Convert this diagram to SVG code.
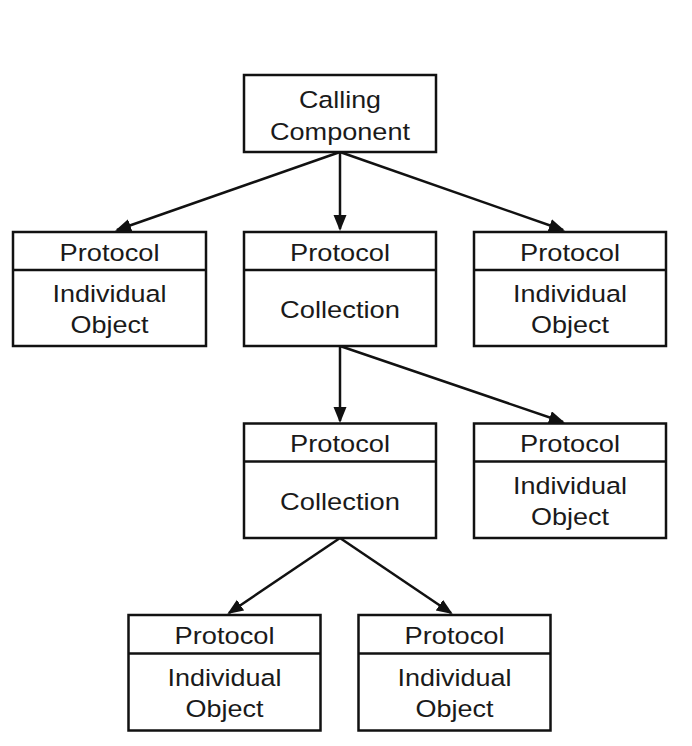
<svg xmlns="http://www.w3.org/2000/svg" width="692" height="746" viewBox="0 0 692 746">
<style>
.box{fill:#fff;stroke:#111;stroke-width:2.5}
.div{stroke:#111;stroke-width:2.5}
.t{font-family:"Liberation Sans",Arial,sans-serif;font-size:24.5px;fill:#1a1a1a;text-anchor:middle}
.c{stroke:#111;stroke-width:2.5;fill:none;marker-end:url(#ah)}
</style>
<defs>
<marker id="ah" markerUnits="userSpaceOnUse" markerWidth="17" markerHeight="14" refX="14" refY="6.5" orient="auto">
<path d="M0,0 L16,6.5 L0,13 z" fill="#111"/>
</marker>
</defs>
<rect width="692" height="746" fill="#fff"/>
<g id="connectors">
<line class="c" x1="340" y1="152" x2="117" y2="230"/>
<line class="c" x1="340" y1="152" x2="340" y2="229"/>
<line class="c" x1="340" y1="152" x2="563" y2="230"/>
<line class="c" x1="340" y1="346" x2="340" y2="421"/>
<line class="c" x1="340" y1="346" x2="563" y2="422"/>
<line class="c" x1="340" y1="538" x2="229" y2="613"/>
<line class="c" x1="340" y1="538" x2="451" y2="613"/>
</g>
<g id="calling">
<rect class="box" x="244" y="75" width="192" height="77"/>
<text class="t" x="340" y="108" textLength="82" lengthAdjust="spacingAndGlyphs">Calling</text>
<text class="t" x="340" y="140" textLength="140" lengthAdjust="spacingAndGlyphs">Component</text>
</g>
<g id="obj1">
<rect class="box" x="13" y="232" width="193" height="114"/>
<line class="div" x1="13" y1="270" x2="206" y2="270"/>
<text class="t" x="109.5" y="261" textLength="100" lengthAdjust="spacingAndGlyphs">Protocol</text>
<text class="t" x="109.5" y="302" textLength="114" lengthAdjust="spacingAndGlyphs">Individual</text>
<text class="t" x="109.5" y="333" textLength="78" lengthAdjust="spacingAndGlyphs">Object</text>
</g>
<g id="coll1">
<rect class="box" x="244" y="232" width="192" height="114"/>
<line class="div" x1="244" y1="270" x2="436" y2="270"/>
<text class="t" x="340" y="261" textLength="100" lengthAdjust="spacingAndGlyphs">Protocol</text>
<text class="t" x="340" y="318" textLength="120" lengthAdjust="spacingAndGlyphs">Collection</text>
</g>
<g id="obj2">
<rect class="box" x="474" y="232" width="192" height="114"/>
<line class="div" x1="474" y1="270" x2="666" y2="270"/>
<text class="t" x="570" y="261" textLength="100" lengthAdjust="spacingAndGlyphs">Protocol</text>
<text class="t" x="570" y="302" textLength="114" lengthAdjust="spacingAndGlyphs">Individual</text>
<text class="t" x="570" y="333" textLength="78" lengthAdjust="spacingAndGlyphs">Object</text>
</g>
<g id="coll2">
<rect class="box" x="244" y="423.5" width="192" height="114.5"/>
<line class="div" x1="244" y1="461.5" x2="436" y2="461.5"/>
<text class="t" x="340" y="451.5" textLength="100" lengthAdjust="spacingAndGlyphs">Protocol</text>
<text class="t" x="340" y="509.5" textLength="120" lengthAdjust="spacingAndGlyphs">Collection</text>
</g>
<g id="obj3">
<rect class="box" x="474" y="423.5" width="192" height="114.5"/>
<line class="div" x1="474" y1="461.5" x2="666" y2="461.5"/>
<text class="t" x="570" y="451.5" textLength="100" lengthAdjust="spacingAndGlyphs">Protocol</text>
<text class="t" x="570" y="494" textLength="114" lengthAdjust="spacingAndGlyphs">Individual</text>
<text class="t" x="570" y="525" textLength="78" lengthAdjust="spacingAndGlyphs">Object</text>
</g>
<g id="obj4">
<rect class="box" x="128.5" y="615" width="192" height="115.5"/>
<line class="div" x1="128.5" y1="653.5" x2="320.5" y2="653.5"/>
<text class="t" x="224.5" y="643.5" textLength="100" lengthAdjust="spacingAndGlyphs">Protocol</text>
<text class="t" x="224.5" y="685.5" textLength="114" lengthAdjust="spacingAndGlyphs">Individual</text>
<text class="t" x="224.5" y="717" textLength="78" lengthAdjust="spacingAndGlyphs">Object</text>
</g>
<g id="obj5">
<rect class="box" x="358.5" y="615" width="192" height="115.5"/>
<line class="div" x1="358.5" y1="653.5" x2="550.5" y2="653.5"/>
<text class="t" x="454.5" y="643.5" textLength="100" lengthAdjust="spacingAndGlyphs">Protocol</text>
<text class="t" x="454.5" y="685.5" textLength="114" lengthAdjust="spacingAndGlyphs">Individual</text>
<text class="t" x="454.5" y="717" textLength="78" lengthAdjust="spacingAndGlyphs">Object</text>
</g>
</svg>
